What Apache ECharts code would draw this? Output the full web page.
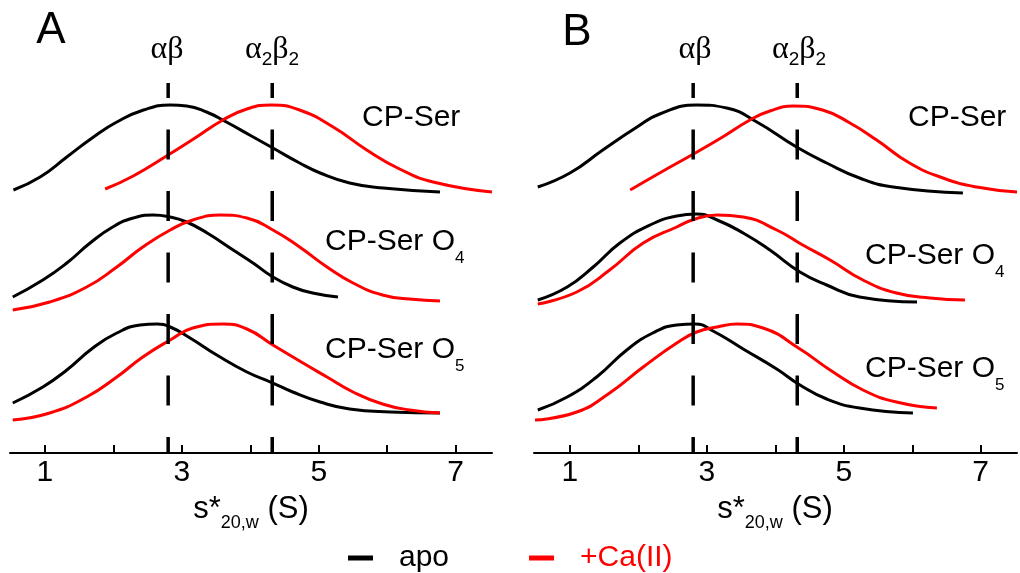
<!DOCTYPE html>
<html>
<head>
<meta charset="utf-8">
<script src="https://cdn.jsdelivr.net/npm/echarts@6/dist/echarts.min.js"></script>
<style>html,body{margin:0;padding:0;background:#fff}#c{width:1020px;height:573px}</style>
</head>
<body>
<div id="c"></div>
<script>
// ---- data (s*20,w in S ; g(s*) in arbitrary units, traces stacked with offsets) ----
const xTickValues = [1, 2, 3, 4, 5, 6, 7];
const xLabelValues = [1, 3, 5, 7];
const markPositions = [2.8, 4.32];
const markTop = 3.7;

const A_CPSer_apo = [[0.54,2.63],[0.93,2.76],[1.32,2.96],[1.71,3.16],[2.05,3.31],[2.44,3.43],[2.83,3.48],[3.07,3.47],[3.36,3.41],[3.65,3.31],[3.99,3.18],[4.33,3.05],[4.72,2.90],[5.02,2.80],[5.45,2.70],[5.94,2.65],[6.77,2.61]];
const A_CPSer_ca  = [[1.88,2.64],[2.29,2.77],[2.80,2.98],[3.17,3.14],[3.60,3.33],[3.95,3.44],[4.31,3.48],[4.72,3.43],[5.21,3.26],[5.70,3.03],[6.18,2.84],[6.67,2.71],[7.53,2.61]];
const A_O4_apo = [[0.53,1.56],[0.97,1.73],[1.32,1.90],[1.66,2.10],[1.99,2.26],[2.29,2.35],[2.58,2.38],[2.83,2.36],[3.07,2.31],[3.37,2.20],[3.75,2.03],[4.04,1.90],[4.33,1.76],[4.62,1.66],[4.91,1.60],[5.28,1.56]];
const A_O4_ca  = [[0.53,1.43],[1.07,1.51],[1.61,1.66],[2.05,1.86],[2.43,2.06],[2.83,2.23],[3.16,2.33],[3.56,2.38],[3.95,2.35],[4.33,2.23],[4.72,2.06],[5.12,1.86],[5.50,1.70],[5.93,1.58],[6.33,1.54],[6.77,1.52]];
const A_O5_apo = [[0.53,0.50],[0.97,0.66],[1.32,0.83],[1.70,1.05],[2.05,1.20],[2.39,1.28],[2.64,1.29],[2.83,1.26],[3.12,1.15],[3.51,0.98],[3.95,0.81],[4.33,0.70],[4.62,0.61],[5.02,0.51],[5.45,0.44],[6.04,0.41],[6.77,0.40]];
const A_O5_ca  = [[0.53,0.33],[1.07,0.40],[1.61,0.56],[2.05,0.76],[2.43,0.96],[2.83,1.13],[3.16,1.25],[3.60,1.29],[3.95,1.24],[4.33,1.08],[4.72,0.92],[5.12,0.76],[5.50,0.61],[5.93,0.49],[6.33,0.43],[6.77,0.40]];

const B_CPSer_apo = [[0.53,2.66],[1.00,2.80],[1.48,3.03],[1.98,3.26],[2.31,3.39],[2.85,3.48],[3.29,3.45],[3.73,3.31],[4.31,3.06],[4.75,2.90],[5.23,2.75],[5.72,2.66],[6.74,2.60]];
const B_CPSer_ca  = [[1.88,2.63],[2.31,2.80],[2.83,3.00],[3.23,3.16],[3.63,3.33],[3.92,3.42],[4.26,3.47],[4.69,3.43],[5.09,3.30],[5.48,3.13],[5.96,2.90],[6.45,2.75],[6.94,2.66],[7.53,2.61]];
const B_O4_apo = [[0.53,1.53],[0.96,1.66],[1.34,1.86],[1.73,2.10],[2.17,2.28],[2.56,2.37],[2.85,2.39],[3.15,2.33],[3.53,2.20],[3.92,2.03],[4.36,1.81],[4.75,1.68],[5.23,1.56],[6.07,1.51]];
const B_O4_ca  = [[0.53,1.49],[1.10,1.61],[1.58,1.83],[2.07,2.10],[2.56,2.26],[2.83,2.34],[3.15,2.38],[3.53,2.36],[4.02,2.23],[4.40,2.08],[4.80,1.93],[5.28,1.73],[5.77,1.60],[6.26,1.55],[6.77,1.53]];
const B_O5_apo = [[0.53,0.43],[0.96,0.56],[1.39,0.76],[1.83,1.03],[2.21,1.20],[2.56,1.28],[2.83,1.29],[3.09,1.22],[3.53,1.04],[4.02,0.84],[4.36,0.68],[4.75,0.54],[5.23,0.45],[6.01,0.40]];
const B_O5_ca  = [[0.49,0.33],[1.10,0.41],[1.58,0.60],[2.07,0.86],[2.56,1.10],[2.85,1.21],[3.15,1.26],[3.44,1.29],[3.82,1.25],[4.36,1.04],[4.80,0.83],[5.28,0.63],[5.77,0.51],[6.36,0.45]];

// ---- chart ----
const FONT = '"Liberation Sans", Arial, sans-serif';
const BLACK = '#000000', RED = '#ff0000';
const chart = echarts.init(document.getElementById('c'), null, {renderer: 'canvas'});

function xAxis(gi, min) {
  return {
    type: 'value', gridIndex: gi, min: min, max: 7.53,
    axisLine: {show: true, onZero: false, lineStyle: {color: BLACK, width: 2}},
    axisTick: {show: true, inside: true, length: 8, lineStyle: {color: BLACK, width: 2}, customValues: xTickValues},
    axisLabel: {show: true, color: BLACK, fontSize: 30, fontFamily: FONT, margin: 5, customValues: xLabelValues},
    splitLine: {show: false}
  };
}
function yAxis(gi) {
  return {type: 'value', gridIndex: gi, min: 0, max: 4, show: false};
}
function curve(name, data, gi, color) {
  return {
    type: 'line', name: name, data: data, xAxisIndex: gi, yAxisIndex: gi,
    smooth: 0.5, symbol: 'none', color: color, itemStyle: {color: color},
    lineStyle: {color: color, width: 3}, silent: true, z: 3
  };
}
function markLine(x, gi) {
  return {
    type: 'line', name: 'mark', data: [[x, 0], [x, markTop]], xAxisIndex: gi, yAxisIndex: gi,
    symbol: 'none', silent: true, z: 4,
    lineStyle: {color: BLACK, width: 3.5, type: [30, 31.5], dashOffset: 14}
  };
}
const series = [
  curve('apo', A_CPSer_apo, 0, BLACK), curve('+Ca(II)', A_CPSer_ca, 0, RED),
  curve('apo', A_O4_apo, 0, BLACK), curve('+Ca(II)', A_O4_ca, 0, RED),
  curve('apo', A_O5_apo, 0, BLACK), curve('+Ca(II)', A_O5_ca, 0, RED),
  curve('apo', B_CPSer_apo, 1, BLACK), curve('+Ca(II)', B_CPSer_ca, 1, RED),
  curve('apo', B_O4_apo, 1, BLACK), curve('+Ca(II)', B_O4_ca, 1, RED),
  curve('apo', B_O5_apo, 1, BLACK), curve('+Ca(II)', B_O5_ca, 1, RED),
  markLine(markPositions[0], 0), markLine(markPositions[1], 0),
  markLine(markPositions[0], 1), markLine(markPositions[1], 1)
];

function txt(x, y, text, opts) {
  return {
    type: 'text', x: x, y: y, silent: true,
    style: Object.assign({text: text, fill: BLACK, font: '30px ' + FONT, align: 'left', verticalAlign: 'middle'}, opts || {})
  };
}
const mainS = {fontSize: 30, fontFamily: FONT, fill: BLACK, lineHeight: 30};
const titleS = {fontSize: 31, fontFamily: FONT, fill: BLACK, lineHeight: 31};
function subS(pad, size) { return {fontSize: size || 17, fontFamily: FONT, fill: BLACK, lineHeight: size || 17, padding: [pad, 0, 0, 0]}; }
const greekMain = {fontSize: 32, fontFamily: '"Liberation Serif", serif', lineHeight: 32};
const greekSub = {fontSize: 19, fontFamily: '"Liberation Sans", sans-serif', lineHeight: 19, padding: [20, 0, 0, 0]};

const graphics = [
  txt(51, 31, 'A', {font: '44px ' + FONT, align: 'center'}),
  txt(577, 33, 'B', {font: '44px ' + FONT, align: 'center'}),
  // oligomer labels
  txt(167, 50, '{m|αβ}', {align: 'center', rich: {m: greekMain}}),
  txt(272, 50, '{m|α}{s|2}{m|β}{s|2}', {align: 'center', rich: {m: greekMain, s: greekSub}}),
  txt(695, 50, '{m|αβ}', {align: 'center', rich: {m: greekMain}}),
  txt(799, 50, '{m|α}{s|2}{m|β}{s|2}', {align: 'center', rich: {m: greekMain, s: greekSub}}),
  // sample labels
  txt(362, 118, 'CP-Ser', {font: '30px ' + FONT}),
  txt(325, 242, '{m|CP-Ser O}{s|4}', {rich: {m: mainS, s: subS(32)}}),
  txt(325, 350, '{m|CP-Ser O}{s|5}', {rich: {m: mainS, s: subS(32)}}),
  txt(908, 118, 'CP-Ser', {font: '30px ' + FONT}),
  txt(865, 256, '{m|CP-Ser O}{s|4}', {rich: {m: mainS, s: subS(32)}}),
  txt(865, 369, '{m|CP-Ser O}{s|5}', {rich: {m: mainS, s: subS(32)}}),
  // axis titles
  txt(251, 509, '{m|s*}{s|20,w}{m| (S)}', {align: 'center', rich: {m: titleS, s: subS(29, 18)}}),
  txt(775, 509, '{m|s*}{s|20,w}{m| (S)}', {align: 'center', rich: {m: titleS, s: subS(29, 18)}})
];

chart.setOption({
  animation: false,
  backgroundColor: '#ffffff',
  grid: [
    {left: 10, width: 482, top: 53, height: 400},
    {left: 534, width: 483, top: 53, height: 400}
  ],
  xAxis: [xAxis(0, 0.49), xAxis(1, 0.475)],
  yAxis: [yAxis(0), yAxis(1)],
  legend: {
    left: 348, top: 543, padding: 0, icon: 'rect', itemWidth: 25, itemHeight: 5, itemGap: 80,
    selectedMode: false,
    textStyle: {fontSize: 30, fontFamily: FONT, padding: [0, 0, 0, 21]},
    data: [
      {name: 'apo', textStyle: {color: BLACK}},
      {name: '+Ca(II)', textStyle: {color: RED}}
    ]
  },
  graphic: graphics,
  series: series
});
</script>
</body>
</html>
